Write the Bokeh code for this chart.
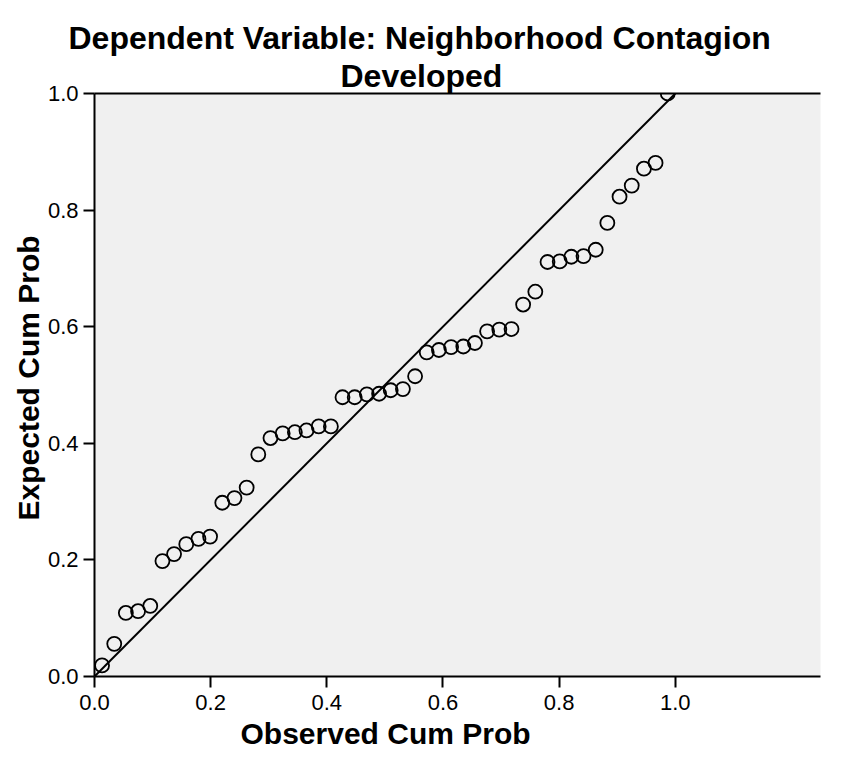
import math
from bokeh.plotting import figure
from bokeh.models import (LinearAxis, FixedTicker, NumeralTickFormatter, Title,
                          Range1d, ColumnDataSource)
from bokeh.embed import file_html
from bokeh.resources import INLINE

# Observed vs expected cumulative probabilities
observed_cum_prob = [0.013, 0.034, 0.054, 0.075, 0.096, 0.117, 0.137, 0.158, 0.179, 0.199,
                     0.220, 0.241, 0.262, 0.282, 0.303, 0.324, 0.345, 0.365, 0.386, 0.407,
                     0.427, 0.448, 0.469, 0.490, 0.510, 0.531, 0.552, 0.572, 0.593, 0.614,
                     0.635, 0.655, 0.676, 0.697, 0.718, 0.738, 0.759, 0.780, 0.801, 0.821,
                     0.842, 0.863, 0.883, 0.904, 0.925, 0.946, 0.966, 0.987]
expected_cum_prob = [0.019, 0.056, 0.109, 0.112, 0.121, 0.198, 0.210, 0.227, 0.236, 0.240,
                     0.298, 0.306, 0.324, 0.381, 0.409, 0.417, 0.419, 0.422, 0.429, 0.429,
                     0.479, 0.479, 0.484, 0.485, 0.491, 0.493, 0.515, 0.556, 0.560, 0.565,
                     0.566, 0.572, 0.592, 0.595, 0.596, 0.638, 0.660, 0.711, 0.712, 0.720,
                     0.721, 0.732, 0.778, 0.823, 0.842, 0.871, 0.881, 1.000]
ref_line_x = [0.0, 1.0]
ref_line_y = [0.0, 1.0]
tick_values = [0.0, 0.2, 0.4, 0.6, 0.8, 1.0]

title_line1 = "Dependent Variable: Neighborhood Contagion"
title_line2 = "Developed"
x_title = "Observed Cum Prob"
y_title = "Expected Cum Prob"

FONT = "Liberation Sans"

p = figure(width=846, height=763, output_backend="svg", toolbar_location=None,
           x_range=Range1d(0, 1.25), y_range=Range1d(0, 1.0),
           x_axis_location=None, y_axis_location=None,
           min_border_left=94, min_border_right=26, min_border_top=93, min_border_bottom=87)
p.background_fill_color = "#F0F0F0"
p.border_fill_color = "white"
p.outline_line_color = None
p.xgrid.visible = False
p.ygrid.visible = False

def visible_axis(standoff):
    ax = LinearAxis()
    ax.axis_line_color = "black"
    ax.axis_line_width = 2
    ax.minor_tick_line_color = None
    ax.ticker = FixedTicker(ticks=tick_values)
    ax.formatter = NumeralTickFormatter(format="0.0")
    ax.major_tick_line_color = "black"
    ax.major_tick_line_width = 2
    ax.major_tick_out = 11
    ax.major_tick_in = 0
    ax.major_label_text_font = FONT
    ax.major_label_text_font_size = "22px"
    ax.major_label_text_color = "black"
    ax.major_label_standoff = standoff
    return ax

top_axis = LinearAxis()
top_axis.axis_line_color = "black"
top_axis.axis_line_width = 2
top_axis.minor_tick_line_color = None
top_axis.ticker = FixedTicker(ticks=[])
top_axis.major_tick_line_color = None
top_axis.major_tick_out = 0
top_axis.major_tick_in = 0
top_axis.major_label_standoff = 0
top_axis.axis_label_standoff = 0
top_axis.major_label_text_font_size = "0px"

def spacer(gap):
    # invisible (fully transparent) title used only as padding
    return Title(text=".", text_font=FONT, text_font_size="9px", text_alpha=0.0,
                 text_color="white", standoff=gap)

def make_title(txt, size, offset, standoff):
    return Title(text=txt, text_font=FONT, text_font_style="bold", text_font_size=size,
                 align="left", offset=offset, standoff=standoff, text_color="black",
                 vertical_align="bottom")

p.add_layout(visible_axis(7), "below")
p.add_layout(visible_axis(5), "left")
p.add_layout(top_axis, "above")
p.add_layout(spacer(2), "above")
p.add_layout(make_title(title_line2, "32px", 246, 0), "above")
p.add_layout(make_title(title_line1, "32px", -26, 0), "above")
p.add_layout(spacer(0), "below")
p.add_layout(make_title(x_title, "30px", 146, 4), "below")
p.add_layout(make_title(y_title, "30px", 156, 0), "left")

p.line(ref_line_x, ref_line_y, line_color="black", line_width=2)
src = ColumnDataSource(dict(x=observed_cum_prob, y=expected_cum_prob))
p.scatter("x", "y", source=src, size=14, marker="circle", fill_color=None,
          line_color="black", line_width=1.8)

open("out.html", "w").write(file_html(p, INLINE))
